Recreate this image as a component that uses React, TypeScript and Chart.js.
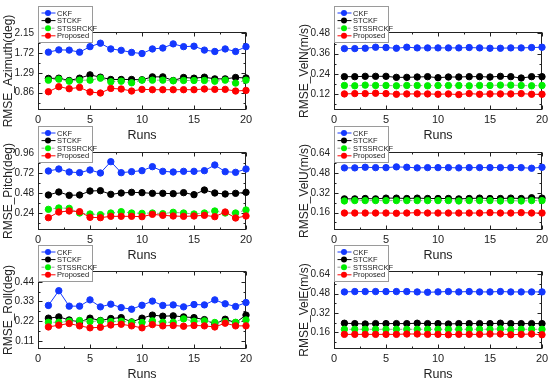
import React, { useEffect, useRef } from "react";
import { Chart, registerables } from "chart.js";
Chart.register(...registerables);

const FONT = "Arial, 'Liberation Sans', sans-serif";

const runs = [1, 2, 3, 4, 5, 6, 7, 8, 9, 10, 11, 12, 13, 14, 15, 16, 17, 18, 19, 20];
const xTicks = [0, 5, 10, 15, 20];
const seriesNames = ["CKF", "STCKF", "STSSRCKF", "Proposed"];

// Azimuth
const azCKF = [1.74, 1.79, 1.785, 1.74, 1.86, 1.935, 1.81, 1.78, 1.735, 1.71, 1.81, 1.83, 1.92, 1.86, 1.87, 1.785, 1.755, 1.81, 1.755, 1.86];
const azSTCKF = [1.17, 1.175, 1.125, 1.175, 1.247, 1.197, 1.147, 1.147, 1.147, 1.14, 1.204, 1.204, 1.125, 1.19, 1.175, 1.197, 1.16, 1.16, 1.19, 1.18];
const azSTSS = [1.132, 1.154, 1.11, 1.132, 1.132, 1.175, 1.097, 1.11, 1.075, 1.132, 1.132, 1.132, 1.118, 1.125, 1.125, 1.125, 1.11, 1.132, 1.068, 1.132];
const azProp = [0.88, 0.99, 0.946, 0.975, 0.874, 0.853, 0.953, 0.94, 0.896, 0.932, 0.925, 0.925, 0.925, 0.925, 0.925, 0.94, 0.932, 0.932, 0.896, 0.91];
const azTicks = [0.86, 1.29, 1.72, 2.15];

// VelN
const vnCKF = [0.39, 0.39, 0.392, 0.398, 0.396, 0.392, 0.398, 0.394, 0.394, 0.394, 0.394, 0.394, 0.396, 0.394, 0.392, 0.392, 0.394, 0.394, 0.396, 0.398];
const vnSTCKF = [0.224, 0.224, 0.226, 0.226, 0.226, 0.22, 0.22, 0.222, 0.224, 0.218, 0.222, 0.222, 0.224, 0.224, 0.222, 0.226, 0.224, 0.216, 0.224, 0.224];
const vnSTSS = [0.172, 0.17, 0.174, 0.172, 0.172, 0.17, 0.172, 0.172, 0.17, 0.172, 0.172, 0.172, 0.17, 0.172, 0.172, 0.174, 0.174, 0.172, 0.17, 0.172];
const vnProp = [0.122, 0.124, 0.124, 0.126, 0.124, 0.12, 0.122, 0.122, 0.122, 0.12, 0.122, 0.118, 0.124, 0.12, 0.122, 0.122, 0.122, 0.124, 0.12, 0.12];
const vnTicks = [0.12, 0.24, 0.36, 0.48];

// Pitch
const piCKF = [0.748, 0.772, 0.736, 0.728, 0.76, 0.724, 0.86, 0.728, 0.74, 0.752, 0.8, 0.744, 0.736, 0.744, 0.744, 0.752, 0.82, 0.74, 0.732, 0.772];
const piSTCKF = [0.46, 0.496, 0.456, 0.46, 0.508, 0.512, 0.468, 0.484, 0.492, 0.488, 0.48, 0.48, 0.476, 0.488, 0.464, 0.52, 0.484, 0.472, 0.48, 0.492];
const piSTSS = [0.288, 0.304, 0.3, 0.244, 0.232, 0.224, 0.244, 0.26, 0.244, 0.24, 0.244, 0.236, 0.252, 0.244, 0.232, 0.244, 0.268, 0.244, 0.244, 0.28];
const piProp = [0.188, 0.256, 0.268, 0.26, 0.192, 0.188, 0.204, 0.204, 0.204, 0.2, 0.228, 0.216, 0.208, 0.204, 0.208, 0.216, 0.2, 0.256, 0.184, 0.208];
const piTicks = [0.24, 0.48, 0.72, 0.96];

// VelU
const vuCKF = [0.524, 0.524, 0.529, 0.526, 0.526, 0.532, 0.529, 0.524, 0.526, 0.526, 0.526, 0.524, 0.526, 0.526, 0.526, 0.526, 0.526, 0.526, 0.521, 0.529];
const vuSTCKF = [0.272, 0.272, 0.275, 0.272, 0.278, 0.278, 0.275, 0.278, 0.275, 0.275, 0.275, 0.272, 0.275, 0.278, 0.275, 0.275, 0.278, 0.275, 0.281, 0.278];
const vuSTSS = [0.255, 0.258, 0.258, 0.258, 0.258, 0.258, 0.258, 0.258, 0.258, 0.258, 0.258, 0.255, 0.258, 0.258, 0.258, 0.255, 0.258, 0.255, 0.258, 0.258];
const vuProp = [0.157, 0.157, 0.157, 0.157, 0.157, 0.155, 0.157, 0.16, 0.157, 0.157, 0.157, 0.157, 0.157, 0.157, 0.16, 0.157, 0.157, 0.16, 0.157, 0.157];
const vuTicks = [0.16, 0.32, 0.48, 0.64];

// Roll
const roCKF = [0.308, 0.39, 0.304, 0.304, 0.339, 0.3, 0.315, 0.296, 0.287, 0.309, 0.332, 0.308, 0.311, 0.3, 0.313, 0.311, 0.339, 0.317, 0.302, 0.324];
const roSTCKF = [0.237, 0.244, 0.227, 0.216, 0.237, 0.224, 0.235, 0.24, 0.216, 0.237, 0.254, 0.248, 0.25, 0.244, 0.24, 0.229, 0.205, 0.231, 0.212, 0.254];
const roSTSS = [0.214, 0.214, 0.22, 0.224, 0.218, 0.222, 0.218, 0.22, 0.214, 0.213, 0.222, 0.214, 0.214, 0.233, 0.22, 0.222, 0.213, 0.218, 0.214, 0.227];
const roProp = [0.188, 0.198, 0.207, 0.194, 0.183, 0.186, 0.199, 0.203, 0.194, 0.183, 0.201, 0.194, 0.196, 0.192, 0.196, 0.194, 0.188, 0.209, 0.194, 0.194];
const roTicks = [0.11, 0.22, 0.33, 0.44];

// VelE
const veCKF = [0.494, 0.497, 0.497, 0.497, 0.497, 0.497, 0.497, 0.494, 0.491, 0.494, 0.497, 0.494, 0.497, 0.494, 0.494, 0.497, 0.494, 0.494, 0.494, 0.494];
const veSTCKF = [0.235, 0.232, 0.229, 0.232, 0.232, 0.232, 0.232, 0.235, 0.232, 0.232, 0.229, 0.232, 0.232, 0.232, 0.232, 0.235, 0.232, 0.232, 0.232, 0.232];
const veSTSS = [0.185, 0.185, 0.185, 0.185, 0.185, 0.185, 0.185, 0.185, 0.185, 0.185, 0.185, 0.185, 0.185, 0.185, 0.185, 0.188, 0.182, 0.185, 0.185, 0.185];
const veProp = [0.143, 0.143, 0.143, 0.143, 0.143, 0.143, 0.146, 0.146, 0.143, 0.143, 0.14, 0.143, 0.143, 0.143, 0.146, 0.146, 0.14, 0.143, 0.146, 0.14];
const veTicks = [0.16, 0.32, 0.48, 0.64];

const pointColors = ["#1438ff", "#000000", "#00ee00", "#ff0000"];
const lineColors = ["#1438ff", "#000000", "#9a9a9a", "#ff0000"];
const lineDash = [[], [], [3, 2], []];

type Panel = {
  title: string;
  series: number[][];
  yTicks: number[];
  yMin: number;
  yMax: number;
  left: number;
  top: number;
};

const panels: Panel[] = [
  { title: "RMSE_Azimuth(deg)", series: [azCKF, azSTCKF, azSTSS, azProp], yTicks: azTicks, yMin: 0.484, yMax: 2.178, left: 0, top: 0 },
  { title: "RMSE_VelN(m/s)", series: [vnCKF, vnSTCKF, vnSTSS, vnProp], yTicks: vnTicks, yMin: 0.027, yMax: 0.488, left: 296, top: 0 },
  { title: "RMSE_Pitch(deg)", series: [piCKF, piSTCKF, piSTSS, piProp], yTicks: piTicks, yMin: 0.04, yMax: 0.976, left: 0, top: 120 },
  { title: "RMSE_VelU(m/s)", series: [vuCKF, vuSTCKF, vuSTSS, vuProp], yTicks: vuTicks, yMin: 0.019, yMax: 0.653, left: 296, top: 120 },
  { title: "RMSE_Roll(deg)", series: [roCKF, roSTCKF, roSTSS, roProp], yTicks: roTicks, yMin: 0.065, yMax: 0.5, left: 0, top: 239 },
  { title: "RMSE_VelE(m/s)", series: [veCKF, veSTCKF, veSTSS, veProp], yTicks: veTicks, yMin: 0.022, yMax: 0.667, left: 296, top: 239 },
];

const CW = 260;
const CH = 146;

const minorValues = (ticks: number[], min: number, max: number) => {
  const step = ticks[1] - ticks[0];
  const out: number[] = [];
  let v = ticks[0] - step / 2;
  while (v >= min) { out.push(v); v -= step; }
  for (let i = 0; i < ticks.length; i++) {
    const m = ticks[i] + step / 2;
    if (m <= max) out.push(m);
  }
  return out;
};

const framePlugin = {
  id: "frame",
  beforeDatasetsDraw(chart: any) {
    const { ctx, chartArea: a } = chart;
    const xs = chart.scales.x;
    const ys = chart.scales.y;
    const L = Math.round(a.left) + 0.5;
    const R = Math.round(a.right) - 0.5;
    const T = Math.round(a.top) + 0.5;
    const B = Math.round(a.bottom) - 0.5;
    ctx.save();
    ctx.strokeStyle = "#222";
    ctx.lineWidth = 1;
    ctx.strokeRect(L, T, R - L, B - T);
    ctx.beginPath();
    const xt = xs.ticks.map((t: any) => t.value);
    const yt = ys.ticks.map((t: any) => t.value);
    const drawX = (v: number, len: number) => {
      const p = Math.round(xs.getPixelForValue(v)) + 0.5;
      ctx.moveTo(p, B); ctx.lineTo(p, B - len);
      ctx.moveTo(p, T); ctx.lineTo(p, T + len);
    };
    const drawY = (v: number, len: number) => {
      const p = Math.round(ys.getPixelForValue(v)) + 0.5;
      ctx.moveTo(L, p); ctx.lineTo(L + len, p);
      ctx.moveTo(R, p); ctx.lineTo(R - len, p);
    };
    xt.forEach((v: number) => drawX(v, 4));
    minorValues(xt, xs.min, xs.max).forEach((v) => drawX(v, 2));
    yt.forEach((v: number) => drawY(v, 4));
    minorValues(yt, ys.min, ys.max).forEach((v) => drawY(v, 2));
    ctx.stroke();
    ctx.restore();
  },
};

const legendPlugin = {
  id: "boxLegend",
  afterDraw(chart: any) {
    const { ctx, chartArea: a } = chart;
    const x = Math.round(a.left) + 0.5;
    const y = Math.round(a.top) - 26 + 0.5;
    const w = 54;
    const h = 36;
    ctx.save();
    ctx.fillStyle = "#ffffff";
    ctx.fillRect(x, y, w, h);
    ctx.strokeStyle = "#9a9a9a";
    ctx.lineWidth = 1;
    ctx.strokeRect(x, y, w, h);
    chart.data.datasets.forEach((ds: any, i: number) => {
      const ry = y + 6.5 + i * 7.6;
      ctx.beginPath();
      ctx.strokeStyle = ds.borderColor;
      ctx.setLineDash(ds.borderDash || []);
      ctx.moveTo(x + 3, ry);
      ctx.lineTo(x + 17, ry);
      ctx.stroke();
      ctx.setLineDash([]);
      ctx.beginPath();
      ctx.fillStyle = ds.pointBackgroundColor;
      ctx.arc(x + 9.5, ry, 3, 0, Math.PI * 2);
      ctx.fill();
      ctx.fillStyle = "#222";
      ctx.font = `7.5px ${FONT}`;
      ctx.textBaseline = "middle";
      ctx.textAlign = "left";
      ctx.fillText(ds.label, x + 18.5, ry + 0.5);
    });
    ctx.restore();
  },
};

function PanelChart({ p }: { p: Panel }) {
  const ref = useRef<HTMLCanvasElement>(null);
  useEffect(() => {
    if (!ref.current) return;
    const chart = new Chart(ref.current, {
      type: "line",
      data: {
        datasets: p.series.map((vals, i) => ({
          label: seriesNames[i],
          data: runs.map((r, j) => ({ x: r, y: vals[j] })),
          borderColor: lineColors[i],
          borderDash: lineDash[i],
          borderWidth: 1,
          pointBackgroundColor: pointColors[i],
          pointBorderColor: pointColors[i],
          pointBorderWidth: 1,
          pointRadius: 3.2,
          pointStyle: "circle",
          tension: 0,
          clip: false as any,
          order: 3 - i,
        })),
      },
      options: {
        animation: false,
        responsive: false,
        devicePixelRatio: 1,
        events: [],
        layout: { padding: { top: 32, left: 0, right: CW - 246, bottom: 0 } },
        plugins: { legend: { display: false }, tooltip: { enabled: false } },
        scales: {
          x: {
            type: "linear",
            min: 0,
            max: 20,
            afterBuildTicks: (s: any) => { s.ticks = xTicks.map((v) => ({ value: v })); },
            afterFit: (s: any) => { s.height = 36; },
            grid: { display: false, drawTicks: false },
            border: { display: false },
            ticks: { padding: 3, color: "#222", font: { family: FONT, size: 11 }, maxRotation: 0, autoSkip: false, callback: (v: any) => String(v) },
            title: { display: true, text: "Runs", color: "#222", font: { family: FONT, size: 12.5 }, padding: { top: 0, bottom: 3 } },
          },
          y: {
            type: "linear",
            min: p.yMin,
            max: p.yMax,
            afterBuildTicks: (s: any) => { s.ticks = p.yTicks.map((v) => ({ value: v })); },
            afterFit: (s: any) => { s.width = 38; },
            grid: { display: false, drawTicks: false },
            border: { display: false },
            ticks: { padding: 4, color: "#222", font: { family: FONT, size: 10 }, autoSkip: false, callback: (v: any) => Number(v).toFixed(2) },
            title: { display: true, text: p.title, color: "#222", font: { family: FONT, size: 12 }, padding: { top: 1, bottom: 0 } },
          },
        },
      },
      plugins: [framePlugin, legendPlugin],
    });
    return () => chart.destroy();
  }, [p]);
  return (
    <canvas
      ref={ref}
      width={CW}
      height={CH}
      style={{ position: "absolute", left: p.left, top: p.top, width: CW, height: CH }}
    />
  );
}

export default function App() {
  return (
    <div style={{ position: "absolute", left: 0, top: 0, width: 550, height: 380, background: "#fff", overflow: "hidden" }}>
      {panels.map((p, i) => (
        <PanelChart key={i} p={p} />
      ))}
    </div>
  );
}
